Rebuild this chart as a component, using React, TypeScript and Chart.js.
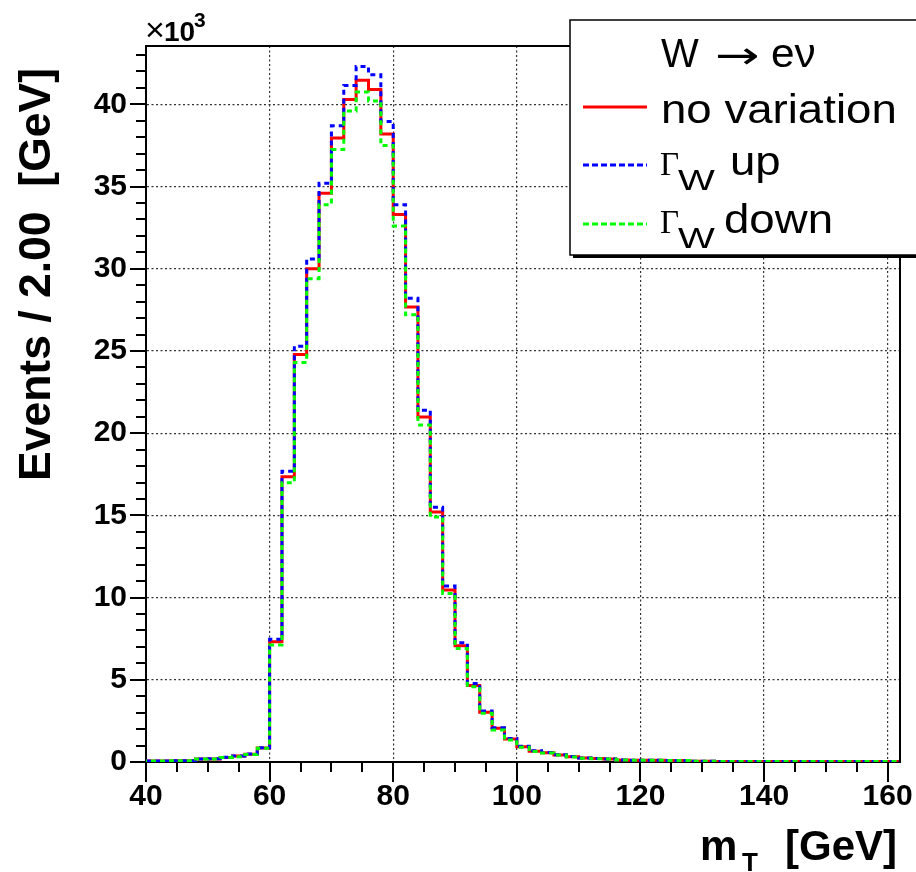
import React, { useEffect, useRef } from 'react';
import { Chart, registerables } from 'chart.js';

Chart.register(...registerables);

// Bin edges (GeV), 2 GeV bins from 40 to 162
const binEdges = [
  40, 42, 44, 46, 48, 50, 52, 54, 56, 58,
  60, 62, 64, 66, 68, 70, 72, 74, 76, 78,
  80, 82, 84, 86, 88, 90, 92, 94, 96, 98,
  100, 102, 104, 106, 108, 110, 112, 114, 116, 118,
  120, 122, 124, 126, 128, 130, 132, 134, 136, 138,
  140, 142, 144, 146, 148, 150, 152, 154, 156, 158,
  160, 162,
];

// Events per bin, in units of 10^3
const noVariation = [
  0.06, 0.06, 0.07, 0.07, 0.18, 0.19, 0.28, 0.36, 0.47, 0.85,
  7.31, 17.35, 24.78, 30.0, 34.6, 37.95, 40.3, 41.46, 40.9, 38.2,
  33.3, 27.67, 20.98, 15.2, 10.46, 7.07, 4.66, 3.02, 2.05, 1.4,
  0.93, 0.66, 0.57, 0.43, 0.32, 0.24, 0.21, 0.19, 0.12, 0.11,
  0.1, 0.1, 0.09, 0.09, 0.04, 0.04, 0.03, 0.03, 0.03, 0.03,
  0.03, 0.03, 0.03, 0.03, 0.03, 0.03, 0.03, 0.03, 0.03, 0.03,
  0.03,
];
const gammaUp = [
  0.06, 0.06, 0.07, 0.07, 0.18, 0.2, 0.29, 0.37, 0.48, 0.86,
  7.46, 17.69, 25.29, 30.6, 35.2, 38.7, 41.15, 42.3, 41.8, 38.96,
  33.9, 28.2, 21.4, 15.5, 10.7, 7.25, 4.78, 3.1, 2.09, 1.43,
  0.96, 0.68, 0.58, 0.44, 0.33, 0.25, 0.21, 0.19, 0.12, 0.11,
  0.1, 0.1, 0.09, 0.09, 0.04, 0.04, 0.03, 0.03, 0.03, 0.03,
  0.03, 0.03, 0.03, 0.03, 0.03, 0.03, 0.03, 0.03, 0.03, 0.03,
  0.03,
];
const gammaDown = [
  0.06, 0.06, 0.07, 0.07, 0.18, 0.19, 0.28, 0.32, 0.46, 0.84,
  7.11, 16.98, 24.3, 29.4, 33.9, 37.26, 39.6, 40.75, 40.2, 37.5,
  32.6, 27.2, 20.5, 14.9, 10.25, 6.91, 4.58, 2.96, 1.95, 1.34,
  0.9, 0.64, 0.55, 0.42, 0.31, 0.23, 0.2, 0.18, 0.12, 0.11,
  0.1, 0.1, 0.09, 0.09, 0.04, 0.04, 0.03, 0.03, 0.03, 0.03,
  0.03, 0.03, 0.03, 0.03, 0.03, 0.03, 0.03, 0.03, 0.03, 0.03,
  0.03,
];

const legendHeader = ['W', '\u2192', 'e\u03BD'];
const seriesLabels = ['no variation', 'up', 'down'];
const xTitle = ['m', 'T', '[GeV]'];
const yTitle = 'Events / 2.00  [GeV]';

const X_MIN = 40;
const X_MAX = 162;
const Y_MIN = 0;
const Y_MAX = 43.55;

const FONT = '"Liberation Sans", Arial, Helvetica, sans-serif';
const SERIF = '"Liberation Serif", "Times New Roman", serif';

function toSteps(vals: number[]) {
  return binEdges.map((e, i) => ({ x: e, y: vals[Math.min(i, vals.length - 1)] }));
}

function txt(ctx: CanvasRenderingContext2D, s: string, x: number, y: number, font: string, sx = 1, align: CanvasTextAlign = 'left') {
  ctx.save();
  ctx.font = font;
  ctx.textAlign = align;
  ctx.textBaseline = 'alphabetic';
  ctx.fillStyle = '#000';
  ctx.translate(x, y);
  ctx.scale(sx, 1);
  ctx.fillText(s, 0, 0);
  ctx.restore();
}

function seg(ctx: CanvasRenderingContext2D, x1: number, y1: number, x2: number, y2: number) {
  ctx.beginPath();
  ctx.moveTo(x1, y1);
  ctx.lineTo(x2, y2);
  ctx.stroke();
}

const rootPlugin = {
  id: 'rootStyle',
  afterDraw(chart: any) {
    const { ctx, chartArea: a, scales } = chart;
    const xs = scales.x;
    const ys = scales.y;
    ctx.save();
    ctx.strokeStyle = '#000';
    ctx.lineWidth = 2;
    ctx.setLineDash([]);
    // x ticks (outside, below)
    for (let v = X_MIN; v <= X_MAX; v += 5) {
      const px = Math.round(xs.getPixelForValue(v));
      const len = v % 20 === 0 ? 20 : 10;
      seg(ctx, px, a.bottom, px, a.bottom + len);
    }
    // y ticks (outside, left)
    for (let v = Y_MIN; v <= Y_MAX; v += 1) {
      const py = Math.round(ys.getPixelForValue(v));
      const len = v % 5 === 0 ? 16 : 10;
      seg(ctx, a.left - len, py, a.left, py);
    }
    // frame top and right
    seg(ctx, a.left - 1, a.top, a.right + 1, a.top);
    seg(ctx, a.right, a.top, a.right, a.bottom + 1);

    // x10^3
    txt(ctx, '\u00D7', 145, 41, `normal 34px ${FONT}`);
    txt(ctx, '10', 164, 41, `bold 28px ${FONT}`);
    txt(ctx, '3', 194, 27, `bold 21px ${FONT}`);

    // y title
    ctx.save();
    ctx.translate(50, 68);
    ctx.rotate(-Math.PI / 2);
    ctx.font = `bold 44.5px ${FONT}`;
    ctx.textAlign = 'right';
    ctx.textBaseline = 'alphabetic';
    ctx.fillStyle = '#000';
    ctx.fillText(yTitle, 0, 0);
    ctx.restore();

    // x title
    txt(ctx, xTitle[0], 700, 860, `bold 42px ${FONT}`);
    txt(ctx, xTitle[1], 742, 871, `bold 26px ${FONT}`);
    txt(ctx, xTitle[2], 897, 860, `bold 42px ${FONT}`, 1, 'right');

    // legend box with shadow
    const lx = 570, ly = 20, lr = 920, lb = 255;
    ctx.fillStyle = '#000';
    ctx.fillRect(lx + 3, ly + 3, lr - lx, lb - ly);
    ctx.fillStyle = '#fff';
    ctx.fillRect(lx, ly, lr - lx, lb - ly);
    ctx.lineWidth = 1.5;
    ctx.strokeStyle = '#000';
    ctx.strokeRect(lx, ly, lr - lx, lb - ly);

    // header W -> e nu
    txt(ctx, legendHeader[0], 661, 67, `normal 40px ${FONT}`);
    txt(ctx, legendHeader[1], 715, 68, `normal 38px "DejaVu Sans", sans-serif`, 1.4);
    txt(ctx, legendHeader[2], 771, 67, `normal 40px ${FONT}`, 1.06);

    // entries
    ctx.lineWidth = 3;
    ctx.strokeStyle = '#ff0000';
    ctx.setLineDash([]);
    seg(ctx, 583, 107, 647, 107);
    txt(ctx, seriesLabels[0], 661, 123, `normal 40px ${FONT}`, 1.14);

    ctx.strokeStyle = '#0000ff';
    ctx.setLineDash([6, 3]);
    seg(ctx, 583, 165, 647, 165);
    txt(ctx, '\u0393', 660, 175, `normal 33px ${SERIF}`);
    txt(ctx, 'W', 678, 190, `normal 30px ${FONT}`, 1.3);
    txt(ctx, seriesLabels[1], 730, 175, `normal 40px ${FONT}`, 1.14);

    ctx.strokeStyle = '#00ff00';
    seg(ctx, 583, 224, 647, 224);
    txt(ctx, '\u0393', 660, 233, `normal 33px ${SERIF}`);
    txt(ctx, 'W', 678, 248, `normal 30px ${FONT}`, 1.3);
    txt(ctx, seriesLabels[2], 724, 233, `normal 40px ${FONT}`, 1.14);

    ctx.restore();
  },
};

export default function App() {
  const ref = useRef<HTMLCanvasElement>(null);

  useEffect(() => {
    document.body.style.margin = '0';
    const canvas = ref.current!;
    const chart = new Chart(canvas, {
      type: 'line',
      data: {
        datasets: [
          {
            label: seriesLabels[0],
            data: toSteps(noVariation),
            borderColor: '#ff0000',
            borderWidth: 3,
            stepped: true,
            pointRadius: 0,
            fill: false,
            order: 3,
          },
          {
            label: seriesLabels[1],
            data: toSteps(gammaUp),
            borderColor: '#0000ff',
            borderWidth: 3,
            borderDash: [5, 4],
            stepped: true,
            pointRadius: 0,
            fill: false,
            order: 2,
          },
          {
            label: seriesLabels[2],
            data: toSteps(gammaDown),
            borderColor: '#00ff00',
            borderWidth: 3,
            borderDash: [5, 4],
            borderDashOffset: 4,
            stepped: true,
            pointRadius: 0,
            fill: false,
            order: 1,
          },
        ],
      },
      options: {
        animation: false,
        responsive: false,
        devicePixelRatio: 1,
        events: [],
        layout: { padding: { top: 46, right: 16, left: 0, bottom: 0 } },
        plugins: {
          legend: { display: false },
          tooltip: { enabled: false },
          title: { display: false },
        },
        scales: {
          x: {
            type: 'linear',
            min: X_MIN,
            max: X_MAX,
            afterFit: (s: any) => { s.height = 110; s.paddingLeft = 0; s.paddingRight = 0; },
            grid: { drawTicks: false, color: '#333', lineWidth: 1.2 },
            border: { display: true, color: '#000', width: 2, dash: [2, 2.5] },
            ticks: {
              stepSize: 20,
              includeBounds: false,
              autoSkip: false,
              maxRotation: 0,
              padding: 17,
              color: '#000',
              font: { family: FONT, weight: 'bold', size: 30 },
            },
          },
          y: {
            type: 'linear',
            min: Y_MIN,
            max: Y_MAX,
            afterFit: (s: any) => { s.width = 146; s.paddingTop = 0; s.paddingBottom = 0; },
            grid: { drawTicks: false, color: '#333', lineWidth: 1.2 },
            border: { display: true, color: '#000', width: 2, dash: [2, 2.5] },
            ticks: {
              stepSize: 5,
              includeBounds: false,
              autoSkip: false,
              padding: 19,
              color: '#000',
              font: { family: FONT, weight: 'bold', size: 30 },
            },
          },
        },
      } as any,
      plugins: [rootPlugin],
    });
    return () => chart.destroy();
  }, []);

  return (
    <div style={{ position: 'absolute', left: 0, top: 0, width: 916, height: 872, background: '#fff' }}>
      <canvas ref={ref} width={916} height={872} style={{ width: 916, height: 872, display: 'block' }} />
    </div>
  );
}
